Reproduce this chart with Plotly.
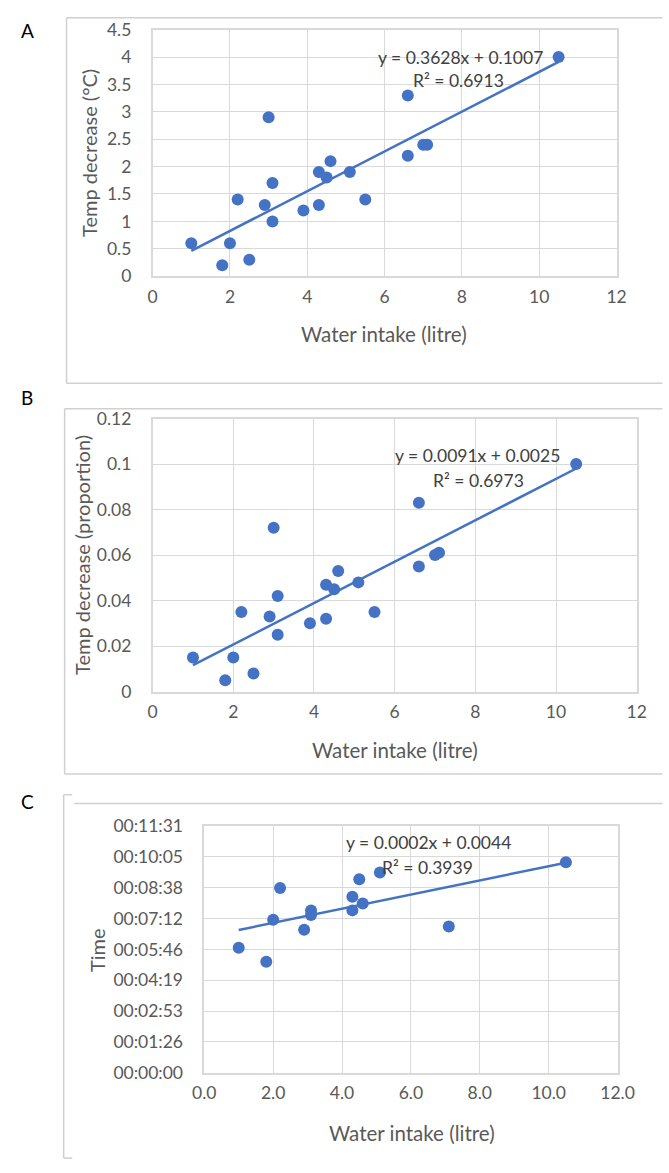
import plotly.graph_objects as go

W, H = 669, 1173
BLUE = "#4472C4"
GRID = "#d9d9d9"
BOX = "#d0d0d0"
TICK = "#595959"
EQ = "#404040"
FONT = "Lato"

# ---------------- data ----------------
# Panel A: temperature decrease (°C) vs water intake
a_water = [1.0, 1.8, 2.0, 2.2, 2.5, 2.9, 3.0, 3.1, 3.1, 3.9, 4.3, 4.3, 4.5, 4.6, 5.1, 5.5, 6.6, 6.6, 7.0, 7.1, 10.5]
a_temp = [0.6, 0.2, 0.6, 1.4, 0.3, 1.3, 2.9, 1.7, 1.0, 1.2, 1.9, 1.3, 1.8, 2.1, 1.9, 1.4, 3.3, 2.2, 2.4, 2.4, 4.0]
a_trend = [0.3628, 0.1007]          # slope, intercept
a_eq = ["y = 0.3628x + 0.1007", "R² = 0.6913"]

# Panel B: temperature decrease (proportion) vs water intake
b_water = [1.0, 1.8, 2.0, 2.2, 2.5, 2.9, 3.0, 3.1, 3.1, 3.9, 4.3, 4.3, 4.5, 4.6, 5.1, 5.5, 6.6, 6.6, 7.0, 7.1, 10.5]
b_temp = [0.015, 0.005, 0.015, 0.035, 0.008, 0.033, 0.072, 0.042, 0.025, 0.030, 0.047, 0.032, 0.045, 0.053,
          0.048, 0.035, 0.083, 0.055, 0.060, 0.061, 0.100]
b_trend = [0.0091, 0.0025]
b_eq = ["y = 0.0091x + 0.0025", "R² = 0.6973"]

# Panel C: time vs water intake
c_water = [1.0, 1.8, 2.0, 2.2, 2.9, 3.1, 3.1, 4.3, 4.3, 4.5, 4.6, 5.1, 7.1, 10.5]
c_time = ["05:50", "05:11", "07:09", "08:38", "06:41", "07:35", "07:22", "08:13", "07:35", "09:02",
          "07:54", "09:21", "06:50", "09:50"]
c_trend = [0.00023, 0.0044]         # in days
c_eq = ["y = 0.0002x + 0.0044", "R² = 0.3939"]
c_ticktext = ["00:00:00", "00:01:26", "00:02:53", "00:04:19", "00:05:46", "00:07:12", "00:08:38",
              "00:10:05", "00:11:31"]

trend_x = [1.0, 10.5]
x_ticks = [0, 2, 4, 6, 8, 10, 12]


def secs(s):
    m, sec = s.split(":")
    return int(m) * 60 + int(sec)


DAY = 86400.0
c_secs = [secs(t) for t in c_time]
c_tickvals = [i * 0.001 * DAY for i in range(len(c_ticktext))]


def fx(px):
    return px / W


def fy(py):
    return 1 - py / H


fig = go.Figure()

mk = dict(color=BLUE, size=12)
ln = dict(color=BLUE, width=2.5)

# A
fig.add_trace(go.Scatter(x=a_water, y=a_temp, mode="markers", marker=mk, xaxis="x", yaxis="y"))
fig.add_trace(go.Scatter(x=trend_x, y=[a_trend[0] * v + a_trend[1] for v in trend_x], mode="lines",
                         line=ln, xaxis="x", yaxis="y"))
# B
fig.add_trace(go.Scatter(x=b_water, y=b_temp, mode="markers", marker=mk, xaxis="x2", yaxis="y2"))
fig.add_trace(go.Scatter(x=trend_x, y=[b_trend[0] * v + b_trend[1] for v in trend_x], mode="lines",
                         line=ln, xaxis="x2", yaxis="y2"))
# C
fig.add_trace(go.Scatter(x=c_water, y=c_secs, mode="markers", marker=mk, xaxis="x3", yaxis="y3"))
fig.add_trace(go.Scatter(x=trend_x, y=[(c_trend[0] * v + c_trend[1]) * DAY for v in trend_x], mode="lines",
                         line=ln, xaxis="x3", yaxis="y3"))

tickfont = dict(family=FONT, size=17.5, color=TICK)


def xax(dom_px, anchor, ticktext=None):
    d = dict(domain=[fx(dom_px[0]), fx(dom_px[1])], anchor=anchor, range=[0, 12],
             tickvals=x_ticks, showgrid=True, gridcolor=GRID, gridwidth=1,
             showline=True, linecolor=GRID, linewidth=1.5, mirror=True, zeroline=False,
             ticks="outside", ticklen=0, tickcolor="rgba(0,0,0,0)", ticklabelstandoff=4,
             tickfont=tickfont)
    if ticktext:
        d["ticktext"] = ticktext
    return d


def yax(dom_px, anchor, rng, tickvals, ticktext=None):
    d = dict(domain=[fy(dom_px[1]), fy(dom_px[0])], anchor=anchor, range=rng,
             tickvals=tickvals, showgrid=True, gridcolor=GRID, gridwidth=1,
             showline=True, linecolor=GRID, linewidth=1.5, mirror=True, zeroline=False,
             ticks="outside", ticklen=0, tickcolor="rgba(0,0,0,0)", ticklabelstandoff=16,
             tickfont=tickfont)
    if ticktext:
        d["ticktext"] = ticktext
    return d


a_yt = [i * 0.5 for i in range(10)]
b_yt = [i * 0.02 for i in range(7)]

fig.update_layout(
    width=W, height=H, margin=dict(l=0, r=0, t=0, b=0),
    paper_bgcolor="white", plot_bgcolor="white", showlegend=False,
    xaxis=xax((147, 632), "y"),
    yaxis=yax((19, 270), "x", [0, 4.5], a_yt, ["0", "0.5", "1", "1.5", "2", "2.5", "3", "3.5", "4", "4.5"]),
    xaxis2=xax((147, 653), "y2"),
    yaxis2=yax((415, 693), "x2", [0, 0.12], b_yt, ["0", "0.02", "0.04", "0.06", "0.08", "0.1", "0.12"]),
    xaxis3=xax((201, 633), "y3", ["0.0", "2.0", "4.0", "6.0", "8.0", "10.0", "12.0"]),
    yaxis3=yax((830, 1081), "x3", [0, 0.008 * DAY], c_tickvals, c_ticktext),
)

ann = []


def txt(x, y, s, size=17, color=TICK, angle=0, xanchor="center"):
    ann.append(dict(x=fx(x), y=fy(y), xref="paper", yref="paper", text=s, showarrow=False,
                    xanchor=xanchor, yanchor="middle", textangle=angle,
                    font=dict(family=FONT, size=size, color=color)))


# panel letters
txt(16, 20, "A", size=19, color="black")
txt(16, 394, "B", size=19, color="black")
txt(16, 805, "C", size=19, color="black")

# axis titles
txt(389, 329, "Water intake (litre)", size=20.5)
txt(81, 144, "Temp decrease (°C)", size=20, angle=-90)
txt(400, 752, "Water intake (litre)", size=20.5)
txt(73, 554, "Temp decrease (proportion)", size=20, angle=-90)
txt(418, 1142, "Water intake (litre)", size=20.5)
txt(89, 956, "Time", size=20, angle=-90)

# equations
txt(469, 47, a_eq[0], size=17.5, color=EQ)
txt(467, 71, a_eq[1], size=17.5, color=EQ)
txt(487, 453, b_eq[0], size=17.5, color=EQ)
txt(488, 478, b_eq[1], size=17.5, color=EQ)
txt(435, 847, c_eq[0], size=17.5, color=EQ)
txt(434, 872, c_eq[1], size=17.5, color=EQ)

fig.update_layout(annotations=ann)

shapes = []


def line(x0, y0, x1, y1):
    shapes.append(dict(type="line", xref="paper", yref="paper", x0=fx(x0), y0=fy(y0), x1=fx(x1), y1=fy(y1),
                       line=dict(color=BOX, width=1.5), layer="below"))


# panel A box
line(57, 7, 680, 7)
line(57, 7, 57, 379)
line(57, 379, 680, 379)
# panel B box
line(55, 405, 680, 405)
line(55, 405, 55, 777)
line(55, 777, 680, 777)
# panel C bracket
line(54, 798, 54, 1168)
line(54, 798, 63, 798)
line(54, 1168, 63, 1168)
line(65, 807, 680, 807)

fig.update_layout(shapes=shapes)

fig.write_html("out.html")
